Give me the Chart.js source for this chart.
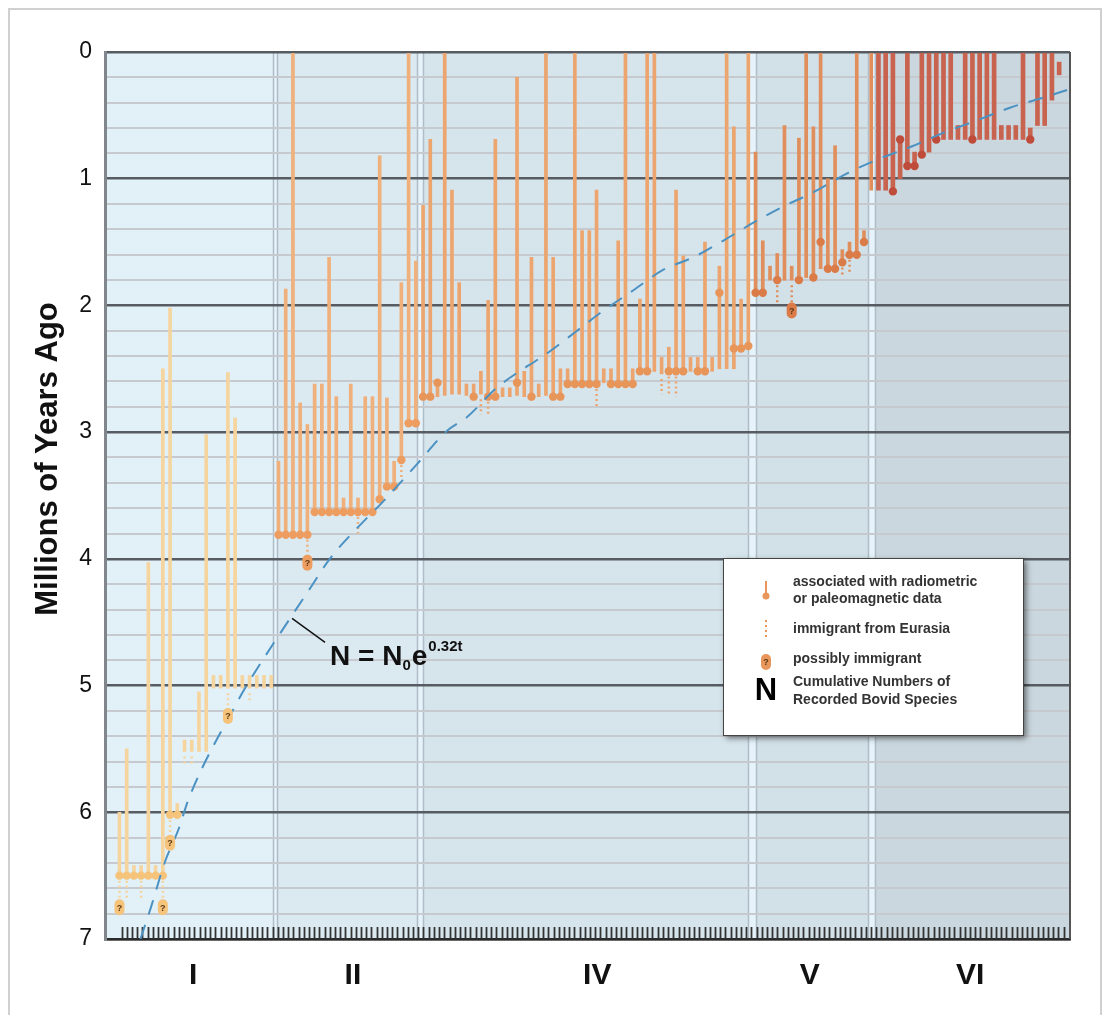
<!DOCTYPE html>
<html><head><meta charset="utf-8">
<script src="https://cdn.jsdelivr.net/npm/chart.js@4/dist/chart.umd.min.js"></script>
<style>html,body{margin:0;padding:0;background:#fff}canvas{display:block}</style>
</head><body>
<canvas id="c" width="1113" height="1015"></canvas>
<script>
// ---- DATA (species ordered by cumulative number N; ages in Ma) ----
const speciesN = [2,3,4,5,6,7,8,9,10,11,12,13,14,15,16,17,18,19,20,21,22,23,
24,25,26,27,28,29,30,31,32,33,34,35,36,37,38,39,40,41,42,43,
44,45,46,47,48,49,50,51,52,53,54,55,56,57,58,59,60,61,62,63,64,65,66,67,68,69,70,71,72,73,74,75,76,77,78,79,80,81,82,83,84,85,86,87,88,89,
90,91,92,93,94,95,96,97,98,99,100,101,102,103,104,105,106,
107,108,109,110,111,112,113,114,115,116,117,118,119,120,121,122,123,124,125,126,127,128,129,130,131,132];
const firstAppearance = [6.5,6.5,6.5,6.5,6.5,6.5,6.5,6.02,6.02,5.52,5.52,5.52,5.52,5.02,5.02,5.02,5.02,5.02,5.02,5.02,5.02,5.02,
3.81,3.81,3.81,3.81,3.81,3.63,3.63,3.63,3.63,3.63,3.63,3.63,3.63,3.63,3.53,3.43,3.43,3.22,2.93,2.93,
2.72,2.72,2.72,2.71,2.7,2.7,2.71,2.72,2.7,2.72,2.72,2.72,2.72,2.71,2.72,2.72,2.72,2.71,2.72,2.72,2.62,2.62,2.62,2.62,2.62,2.61,2.62,2.62,2.62,2.62,2.52,2.52,2.52,2.54,2.52,2.52,2.52,2.52,2.52,2.52,2.52,2.5,2.5,2.5,2.34,2.32,
1.9,1.9,1.8,1.8,1.8,1.8,1.8,1.78,1.78,1.71,1.71,1.71,1.66,1.6,1.6,1.5,1.09,
1.09,1.09,1.1,1.0,0.9,0.9,0.81,0.79,0.69,0.69,0.69,0.69,0.69,0.69,0.69,0.69,0.69,0.69,0.69,0.69,0.69,0.69,0.58,0.58,0.38,0.18];
const lastAppearance = [6.0,5.5,6.42,6.42,4.03,6.42,2.5,2.02,5.93,5.43,5.43,5.05,3.02,4.92,4.92,2.53,2.89,4.92,4.92,4.92,4.92,4.92,
3.23,1.87,0,2.77,2.94,2.62,2.62,1.62,2.72,3.52,2.62,3.52,2.72,2.72,0.82,2.73,3.23,1.82,0,1.65,
1.21,0.69,2.61,0,1.09,1.82,2.62,2.62,2.52,1.96,0.69,2.65,2.65,0.2,2.52,1.62,2.62,0,1.62,2.5,2.5,0,1.41,1.41,1.09,2.5,2.5,1.49,0,2.5,1.95,0,0,2.41,2.33,1.09,1.61,2.41,2.41,1.5,2.41,1.69,0,0.59,1.95,0,
0.79,1.49,1.69,1.59,0.58,1.69,0.68,0,0.59,0.01,1.0,0.74,1.56,1.5,0,1.41,0,
0,0,0,0.69,0,0.79,0,0,0,0,0,0.58,0,0,0,0,0,0.58,0.58,0.58,0,0.6,0,0,0,0.08];
const datedAt = [6.5,6.5,6.5,6.5,6.5,6.5,6.5,6.02,6.02,null,null,null,null,null,null,null,null,null,null,null,null,null,
3.81,3.81,3.81,3.81,3.81,3.63,3.63,3.63,3.63,3.63,3.63,3.63,3.63,3.63,3.53,3.43,3.43,3.22,2.93,2.93,
2.72,2.72,2.61,null,null,null,null,2.72,null,2.72,2.72,null,null,2.61,null,2.72,null,null,2.72,2.72,2.62,2.62,2.62,2.62,2.62,null,2.62,2.62,2.62,2.62,2.52,2.52,null,null,2.52,2.52,2.52,null,2.52,2.52,null,1.9,null,2.34,2.34,2.32,
1.9,1.9,null,1.8,null,null,1.8,null,1.78,1.5,1.71,1.71,1.66,1.6,1.6,1.5,null,
null,null,1.1,0.69,0.9,0.9,0.81,null,0.69,null,null,null,null,0.69,null,null,null,null,null,null,null,0.69,null,null,null,null];
// immigrant from Eurasia: dotted tail below first appearance
const immigrantN   = [2,3,5,8,9,11,12,17,20,28,35,41,52,53,68,77,78,79,93,95,102,103];
const immigrantTo  = [6.68,6.68,6.68,6.68,6.17,5.62,5.62,5.18,5.12,3.97,3.8,3.36,2.86,2.86,2.8,2.7,2.7,2.72,1.98,1.98,1.78,1.74];
// possibly immigrant markers
const possibleN   = [2,8,9,17,28,95];
const possibleAge = [6.75,6.75,6.24,5.24,4.03,2.04];
// fitted curve N = N0 e^(0.32t)
const curveAge = [7.0,6.76,6.39,6.13,5.89,5.13,4.99,4.47,4.23,4.0,3.65,3.57,3.25,2.99,2.88,2.65,2.36,2.2,2.06,1.88,1.72,1.62,1.49,1.33,1.22,1.11,0.96,0.85,0.75,0.64,0.54,0.44,0.36,0.3];
const curveN   = [4.9,6.3,8.3,10.2,11.6,18.3,19.7,25.6,28.4,31.1,36.7,38.1,43.2,47.3,50.1,54.2,61.6,65.3,68.5,73.1,77.2,81.4,85.5,90.2,93.8,97.9,102.6,106.8,111.4,115.9,120.6,125.2,129.8,133.1];
const zoneNames  = ['I','II','IV','V','VI'];
const zoneLabelN = [12.2,34.3,68.1,97.5,119.7];
const zoneStart  = [0,23.8,44.0,90.1,106.5];
const zoneEnd    = [23.3,43.2,89.0,105.6,133.5];
const yTickLabels = ['0','1','2','3','4','5','6','7'];
const curveLabelAt = {n:25.6, age:4.47};
const axisTickFirst = 2.3, axisTickLast = 132.8, axisTickStep = 0.72;

// ---- STYLE ----
const zoneFill = ['#e2f0f8','#dbe9f1','#d6e4ec','#d2e0e8','#cad7de'];
const barCol = ['#f6d49e','#f0b07b','#eca56e','#e08f5c','#c8634f'];
const dotCol = ['#f5c37a','#ee9d60','#e8955a','#da7b48','#bf4b3b'];
function zoneOf(n){return n<=23?0:n<=43?1:n<=89?2:n<=106?3:4;}

const barData = speciesN.map((n,i)=>({x:n,y:[firstAppearance[i],lastAppearance[i]]}));
const barsA = barData.filter(d=>zoneOf(d.x)<4), barsB = barData.filter(d=>zoneOf(d.x)===4);
const dotData = [], dotColors = [];
speciesN.forEach((n,i)=>{ if(datedAt[i]!==null){dotData.push({x:n,y:datedAt[i]});dotColors.push(dotCol[zoneOf(n)]);} });
const tailData = [];
immigrantN.forEach((n,i)=>{ const f = firstAppearance[speciesN.indexOf(n)];
  tailData.push({x:n,y:f+0.04},{x:n,y:immigrantTo[i]},{x:n,y:null}); });
const curveData = curveN.map((n,i)=>({x:n,y:curveAge[i]}));

const deco = {
  id:'deco',
  beforeDraw(chart){
    const {ctx, chartArea:a, scales:{x}} = chart;
    ctx.save();
    ctx.fillStyle='#fff'; ctx.fillRect(0,0,chart.width,chart.height);
    ctx.strokeStyle='#d0d0d0'; ctx.lineWidth=2; ctx.strokeRect(9,9,1092,1040);
    ctx.fillStyle='#e6f3fa'; ctx.fillRect(a.left,a.top,a.right-a.left,a.bottom-a.top);
    zoneStart.forEach((s,i)=>{
      const x0=x.getPixelForValue(s), x1=x.getPixelForValue(zoneEnd[i]);
      ctx.fillStyle=zoneFill[i]; ctx.fillRect(x0,a.top,x1-x0,a.bottom-a.top);
    });
    ctx.strokeStyle='#aebdc7'; ctx.lineWidth=1.5;
    zoneStart.forEach((s,i)=>{
      [s, zoneEnd[i]].forEach(v=>{ if(v<=0||v>=133.5) return;
        const px=Math.round(x.getPixelForValue(v))+0.5;
        ctx.beginPath(); ctx.moveTo(px,a.top); ctx.lineTo(px,a.bottom); ctx.stroke(); });
    });
    ctx.restore();
  },
  beforeDatasetsDraw(chart){
    const {ctx, chartArea:a, scales:{x}} = chart;
    ctx.save();
    ctx.strokeStyle='#333'; ctx.lineWidth=1.8;
    for(let v=axisTickFirst; v<=axisTickLast+1e-6; v+=axisTickStep){
      const px=Math.round(x.getPixelForValue(v))+0.5;
      ctx.beginPath(); ctx.moveTo(px,a.bottom-12); ctx.lineTo(px,a.bottom); ctx.stroke();
    }
    ctx.strokeStyle='#555'; ctx.lineWidth=2;
    ctx.beginPath(); ctx.moveTo(a.right,a.top); ctx.lineTo(a.right,a.bottom); ctx.stroke();
    ctx.restore();
  },
  afterDatasetsDraw(chart){
    const {ctx, chartArea:a, scales:{x,y}} = chart;
    ctx.save();
    // possibly-immigrant pills
    possibleN.forEach((n,i)=>{
      const px=x.getPixelForValue(n), py=y.getPixelForValue(possibleAge[i]);
      ctx.fillStyle=dotCol[zoneOf(n)];
      ctx.beginPath(); ctx.roundRect(px-5,py-8,10,16,5); ctx.fill();
      ctx.fillStyle='#5a3a1a'; ctx.font='bold 9px Arial'; ctx.textAlign='center'; ctx.textBaseline='middle';
      ctx.fillText('?',px,py+1);
    });
    // curve annotation
    const ax=x.getPixelForValue(curveLabelAt.n), ay=y.getPixelForValue(curveLabelAt.age);
    ctx.strokeStyle='#111'; ctx.lineWidth=1.5;
    ctx.beginPath(); ctx.moveTo(ax+2,ay); ctx.lineTo(ax+35,ay+24); ctx.stroke();
    ctx.fillStyle='#111'; ctx.textAlign='left'; ctx.textBaseline='alphabetic';
    let tx=ax+40, ty=ay+47;
    ctx.font='bold 28px Arial'; ctx.fillText('N = N',tx,ty); tx+=ctx.measureText('N = N').width;
    ctx.font='bold 15px Arial'; ctx.fillText('0',tx,ty+5); tx+=ctx.measureText('0').width+1;
    ctx.font='bold 28px Arial'; ctx.fillText('e',tx,ty); tx+=ctx.measureText('e').width+1;
    ctx.font='bold 15px Arial'; ctx.fillText('0.32t',tx,ty-14);
    // zone labels
    ctx.font='bold 30px Arial'; ctx.textAlign='center'; ctx.textBaseline='middle'; ctx.fillStyle='#111';
    zoneNames.forEach((t,i)=>ctx.fillText(t,x.getPixelForValue(zoneLabelN[i]),976));
    // y title
    ctx.save(); ctx.translate(48,459); ctx.rotate(-Math.PI/2);
    ctx.font='bold 31px Arial'; ctx.fillText('Millions of Years Ago',0,0); ctx.restore();
    // legend box
    const L=723,T=558,W=300,H=177;
    ctx.save(); ctx.shadowColor='rgba(0,0,0,0.55)'; ctx.shadowBlur=6; ctx.shadowOffsetX=3; ctx.shadowOffsetY=3;
    ctx.fillStyle='#fff'; ctx.fillRect(L,T,W,H); ctx.restore();
    ctx.strokeStyle='#444'; ctx.lineWidth=1; ctx.strokeRect(L+0.5,T+0.5,W,H);
    const ix=766;
    ctx.strokeStyle='#e8965a'; ctx.fillStyle='#e8965a'; ctx.lineWidth=2;
    ctx.beginPath(); ctx.moveTo(ix,581); ctx.lineTo(ix,595); ctx.stroke();
    ctx.beginPath(); ctx.arc(ix,596,3.5,0,Math.PI*2); ctx.fill();
    ctx.setLineDash([2,3]); ctx.beginPath(); ctx.moveTo(ix,620); ctx.lineTo(ix,639); ctx.stroke(); ctx.setLineDash([]);
    ctx.beginPath(); ctx.roundRect(ix-5,654,10,16,5); ctx.fill();
    ctx.fillStyle='#5a3a1a'; ctx.font='bold 9px Arial'; ctx.textAlign='center'; ctx.fillText('?',ix,663);
    ctx.fillStyle='#000'; ctx.font='bold 31px Arial'; ctx.fillText('N',ix,691);
    ctx.fillStyle='#333'; ctx.font='bold 14px Arial'; ctx.textAlign='left';
    [['associated with radiometric',582],['or paleomagnetic data',599],['immigrant from Eurasia',629],
     ['possibly immigrant',659],['Cumulative Numbers of',682],['Recorded Bovid Species',700]]
      .forEach(([t,yy])=>ctx.fillText(t,793,yy));
    ctx.restore();
  }
};

new Chart(document.getElementById('c'), {
  type:'bar',
  data:{datasets:[
    {type:'line', data:curveData, borderColor:'#4b92c3', borderWidth:2, borderDash:[15,11], pointRadius:0,
     cubicInterpolationMode:'monotone', order:0},
    {type:'line', data:dotData, showLine:false, pointRadius:4.2, pointHoverRadius:4.2, pointBorderWidth:0,
     pointBackgroundColor:dotColors, order:1},
    {type:'line', data:tailData, borderWidth:2.5, borderDash:[2,3], pointRadius:0, spanGaps:false,
     segment:{borderColor:c=>barCol[zoneOf(c.p0.parsed.x)]}, borderColor:'#eca56e', order:2},
    {type:'bar', data:barsA, backgroundColor:barsA.map(d=>barCol[zoneOf(d.x)]), barThickness:3,
     grouped:false, order:3},
    {type:'bar', data:barsB, backgroundColor:barCol[4], barThickness:4, grouped:false, order:3}
  ]},
  options:{
    responsive:false, animation:false,
    layout:{padding:{top:52,right:43,left:0,bottom:0}},
    plugins:{legend:{display:false}, tooltip:{enabled:false}},
    scales:{
      x:{type:'linear', min:0, max:133.5, offset:false,
         ticks:{display:false}, grid:{display:false, drawTicks:false},
         border:{display:true, color:'#2a2a2a', width:2.5},
         afterFit:s=>{s.height=76;}},
      y:{type:'linear', reverse:true, min:0, max:7,
         ticks:{stepSize:0.2, autoSkip:false, padding:13, color:'#111', font:{family:'Arial', size:23},
           callback:v=>{const r=Math.round(v); return Math.abs(v-r)<1e-6 ? yTickLabels[r] : '';}},
         grid:{drawTicks:false,
           color:c=>{const v=c.tick.value; return Math.abs(v-Math.round(v))<1e-6 ? '#565c61' : '#c6cace';},
           lineWidth:c=>{const v=c.tick.value; return Math.abs(v-Math.round(v))<1e-6 ? 2.5 : 2;}},
         border:{display:true, color:'#80868b', width:3},
         afterFit:s=>{s.width=105;}}
    }
  },
  plugins:[deco]
});
</script>
</body></html>
